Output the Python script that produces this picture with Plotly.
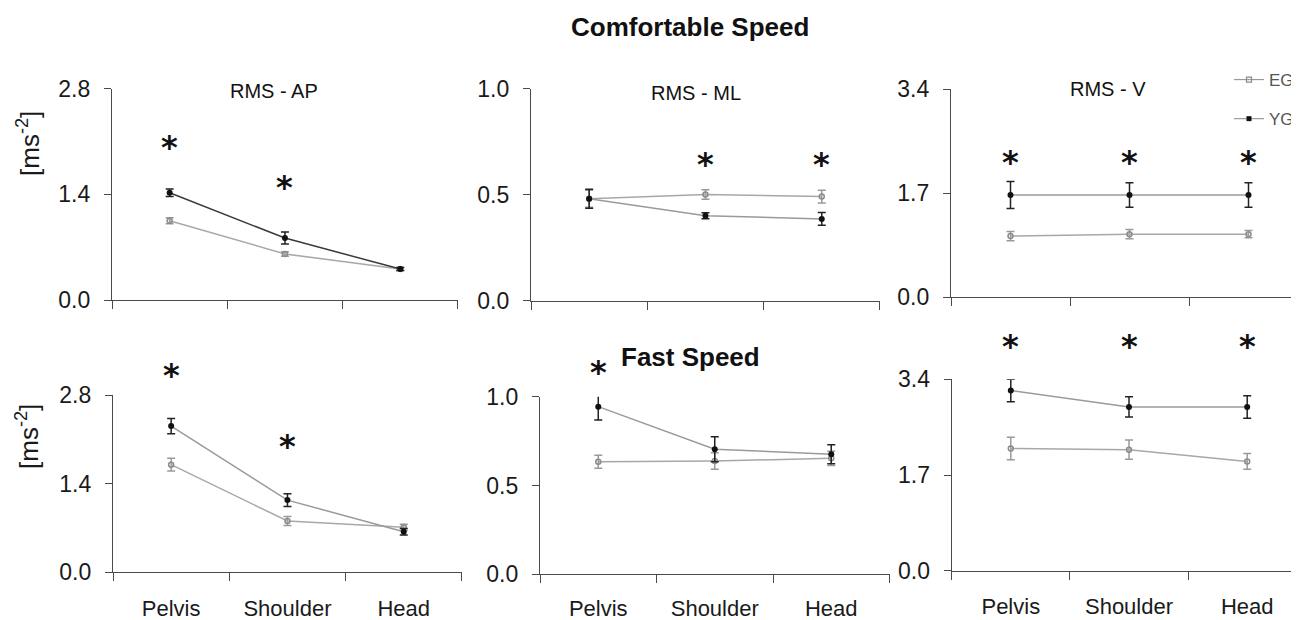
import plotly.graph_objects as go

# the page draws the figure 8px in from the top-left corner of the window
OFF = 8
W, H = 1299 - OFF, 620 - OFF

categories = ["Pelvis", "Shoulder", "Head"]

# Comfortable speed
comf_ap_eg = [1.05, 0.61, 0.41]
comf_ap_eg_err = [0.04, 0.03, 0.02]
comf_ap_yg = [1.42, 0.82, 0.41]
comf_ap_yg_err = [0.05, 0.08, 0.02]

comf_ml_eg = [0.48, 0.50, 0.49]
comf_ml_eg_err = [0.04, 0.022, 0.03]
comf_ml_yg = [0.48, 0.40, 0.385]
comf_ml_yg_err = [0.045, 0.014, 0.03]

comf_v_eg = [1.00, 1.03, 1.03]
comf_v_eg_err = [0.075, 0.075, 0.06]
comf_v_yg = [1.67, 1.67, 1.67]
comf_v_yg_err = [0.22, 0.20, 0.20]

# Fast speed
fast_ap_eg = [1.70, 0.81, 0.71]
fast_ap_eg_err = [0.10, 0.07, 0.05]
fast_ap_yg = [2.31, 1.14, 0.64]
fast_ap_yg_err = [0.12, 0.10, 0.05]

fast_ml_eg = [0.634, 0.638, 0.653]
fast_ml_eg_err = [0.037, 0.047, 0.04]
fast_ml_yg = [0.944, 0.704, 0.676]
fast_ml_yg_err = [0.075, 0.07, 0.053]

fast_v_eg = [2.17, 2.15, 1.94]
fast_v_eg_err = [0.20, 0.17, 0.14]
fast_v_yg = [3.20, 2.91, 2.91]
fast_v_yg_err = [0.20, 0.18, 0.20]

# significance markers: (category index, height)
comf_ap_sig = [(0, 2.07), (1, 1.53)]
comf_ml_sig = [(1, 0.656), (2, 0.656)]
comf_v_sig = [(0, 2.26), (1, 2.26), (2, 2.26)]
fast_ap_sig = [(0, 3.17), (1, 2.04)]
fast_ml_sig = [(0, 1.156)]
fast_v_sig = [(0, 4.04), (1, 4.04), (2, 4.04)]

y_max = [2.8, 1.0, 3.4, 2.8, 1.0, 3.4]
y_ticks = [[0, 1.4, 2.8], [0, 0.5, 1.0], [0, 1.7, 3.4],
           [0, 1.4, 2.8], [0, 0.5, 1.0], [0, 1.7, 3.4]]
panel_titles = ["RMS - AP", "RMS - ML", "RMS - V", "", "", ""]

FONT = "Arial, Liberation Sans, sans-serif"


def px(xp):
    return (xp - OFF) / W


def py(yp):
    return 1 - (yp - OFF) / H


# pixel layout of each panel (window coords): x0, x1, ytop, ybottom, category spacing
panels_px = [
    (112, 458, 88.5, 300.0, 115.3),
    (531, 880, 88.5, 300.5, 116.3),
    (951, 1299, 89.0, 297.3, 119.0),
    (113, 462, 395.0, 572.3, 116.3),
    (540, 889.5, 396.7, 574.3, 116.5),
    (951.7, 1299, 379.3, 570.7, 118.2),
]
label_standoff = [16, 16, 16, 16, 14, 16]
title_px = [(274, 91), (696, 93), (1108, 89)]
EXT = 60  # extra headroom (px) of the hidden axis that carries the asterisks

series = [
    (comf_ap_eg, comf_ap_eg_err, comf_ap_yg, comf_ap_yg_err, comf_ap_sig, "#3a3a3a"),
    (comf_ml_eg, comf_ml_eg_err, comf_ml_yg, comf_ml_yg_err, comf_ml_sig, "#9a9a9a"),
    (comf_v_eg, comf_v_eg_err, comf_v_yg, comf_v_yg_err, comf_v_sig, "#9a9a9a"),
    (fast_ap_eg, fast_ap_eg_err, fast_ap_yg, fast_ap_yg_err, fast_ap_sig, "#9a9a9a"),
    (fast_ml_eg, fast_ml_eg_err, fast_ml_yg, fast_ml_yg_err, fast_ml_sig, "#9a9a9a"),
    (fast_v_eg, fast_v_eg_err, fast_v_yg, fast_v_yg_err, fast_v_sig, "#9a9a9a"),
]

xs = list(range(len(categories)))
fig = go.Figure()
annotations = []
layout = {}

AXCOL = "#4a4a4a"
EGCOL = "#a8a8a8"

for i, (eg, egerr, yg, ygerr, sig, ygline) in enumerate(series):
    n = i + 1
    xa = "x" if n == 1 else f"x{n}"
    ya = "y" if n == 1 else f"y{n}"
    x0, x1, yt, yb, sp = panels_px[i]
    xmax = -0.5 + (x1 - x0) / sp
    bottom = i >= 3
    layout["xaxis" if n == 1 else f"xaxis{n}"] = dict(
        domain=[px(x0), min(1.0, px(x1))], anchor=ya, range=[-0.5, xmax],
        tickvals=xs, ticktext=categories if bottom else ["", "", ""],
        showticklabels=bottom, ticks="", ticklabelstandoff=label_standoff[i],
        tickfont=dict(family=FONT, size=22, color="#1a1a1a"),
        showline=True, linecolor=AXCOL, linewidth=1.3,
        showgrid=False, zeroline=False, automargin=False,
        minor=dict(tickvals=[-0.5, 0.5, 1.5, 2.5], ticks="outside",
                   ticklen=8, tickwidth=1.3, tickcolor=AXCOL, showgrid=False),
    )
    layout["yaxis" if n == 1 else f"yaxis{n}"] = dict(
        domain=[py(yb), py(yt)], anchor=xa, range=[0, y_max[i]],
        tickvals=y_ticks[i], tickformat=".1f", ticks="outside", ticklen=7,
        tickwidth=1.3, tickcolor=AXCOL, ticklabelstandoff=9,
        tickfont=dict(family=FONT, size=23, color="#1a1a1a"),
        showline=True, linecolor=AXCOL, linewidth=1.3,
        showgrid=False, zeroline=False, automargin=False,
    )
    # hidden axis with the same scale but taller, for the significance asterisks
    ha = f"y{n + 6}"
    layout[f"yaxis{n + 6}"] = dict(
        domain=[py(yb), py(yt - EXT)], anchor=xa,
        range=[0, y_max[i] * (yb - (yt - EXT)) / (yb - yt)],
        visible=False, showgrid=False, zeroline=False, automargin=False,
    )
    fig.add_trace(go.Scatter(
        x=[None], y=[None], xaxis=xa, yaxis=ha, showlegend=False, hoverinfo="skip",
    ))
    fig.add_trace(go.Scatter(
        x=xs, y=eg, mode="lines+markers", xaxis=xa, yaxis=ya, showlegend=False,
        line=dict(color=EGCOL, width=1.5),
        marker=dict(symbol="circle-open", size=5, color="#8c8c8c", line=dict(width=1.5)),
        error_y=dict(type="data", array=egerr, color="#9a9a9a", thickness=1.5, width=4),
        cliponaxis=False,
    ))
    fig.add_trace(go.Scatter(
        x=xs, y=yg, mode="lines+markers", xaxis=xa, yaxis=ya, showlegend=False,
        line=dict(color=ygline, width=1.5),
        marker=dict(symbol="circle", size=6, color="#111111"),
        error_y=dict(type="data", array=ygerr, color="#222222", thickness=1.5, width=4),
        cliponaxis=False,
    ))
    for ci, h in sig:
        annotations.append(dict(
            x=xs[ci], y=h, xref=xa, yref=ha, text="<b>*</b>", showarrow=False,
            font=dict(family="DejaVu Sans", size=32, color="#111111"),
            yanchor="middle", yshift=-3,
        ))
    if panel_titles[i]:
        tx, ty = title_px[i]
        annotations.append(dict(
            x=px(tx), y=py(ty),
            xref="paper", yref="paper", text=panel_titles[i], showarrow=False,
            font=dict(family=FONT, size=20, color="#111111"),
            xanchor="center", yanchor="middle",
        ))

# legend-only traces
fig.add_trace(go.Scatter(
    x=[None], y=[None], mode="lines+markers", name="EG", legendgroup="eg",
    line=dict(color="#9a9a9a", width=1.2),
    marker=dict(symbol="square-open", size=5, color="#8c8c8c", line=dict(width=1.2)),
))
fig.add_trace(go.Scatter(
    x=[None], y=[None], mode="lines+markers", name="YG", legendgroup="yg",
    line=dict(color="#9a9a9a", width=1.2),
    marker=dict(symbol="square", size=5, color="#111111"),
))

annotations.append(dict(
    x=px(690), y=py(27), xref="paper", yref="paper",
    text="<b>Comfortable Speed</b>", showarrow=False,
    font=dict(family=FONT, size=26, color="#111111"),
    xanchor="center", yanchor="middle",
))
annotations.append(dict(
    x=px(690), y=py(357), xref="paper", yref="paper",
    text="<b>Fast Speed</b>", showarrow=False,
    font=dict(family=FONT, size=26, color="#111111"),
    xanchor="center", yanchor="middle",
))
for yc in (144, 437):
    annotations.append(dict(
        x=px(28), y=py(yc), xref="paper", yref="paper",
        text="[ms<sup>-2</sup>]", showarrow=False, textangle=-90,
        font=dict(family=FONT, size=26, color="#1a1a1a"),
        xanchor="center", yanchor="middle",
    ))

fig.update_layout(
    width=W, height=H, margin=dict(l=0, r=0, t=0, b=0, autoexpand=False),
    paper_bgcolor="white", plot_bgcolor="rgba(0,0,0,0)",
    annotations=annotations,
    showlegend=True,
    legend=dict(x=1.0, y=py(62), xanchor="right", yanchor="top",
                font=dict(family=FONT, size=17, color="#555555"),
                tracegroupgap=14, itemwidth=30, bgcolor="rgba(0,0,0,0)"),
    **layout,
)

fig.write_html("out.html")
